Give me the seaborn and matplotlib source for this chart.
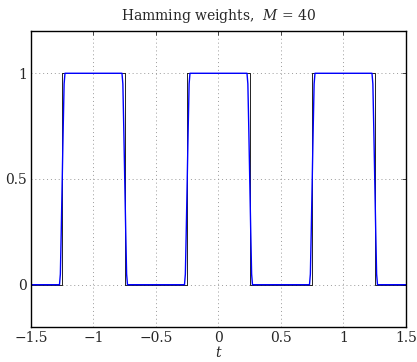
import matplotlib
matplotlib.use("Agg")
import matplotlib.pyplot as plt
import numpy as np
import pandas as pd
import seaborn as sns

# ideal square wave (black)
t_ideal = [-1.5, -1.25, -1.25, -0.75, -0.75, -0.25, -0.25, 0.25, 0.25,
           0.75, 0.75, 1.25, 1.25, 1.5]
x_ideal = [0, 0, 1, 1, 0, 0, 1, 1, 0, 0, 1, 1, 0, 0]

# Hamming-weighted partial sum (blue)
t_ham = [-1.5,
         -1.272, -1.265, -1.258, -1.25, -1.242, -1.235, -1.228,
         -0.772, -0.765, -0.758, -0.75, -0.742, -0.735, -0.728,
         -0.272, -0.265, -0.258, -0.25, -0.242, -0.235, -0.228,
         0.228, 0.235, 0.242, 0.25, 0.258, 0.265, 0.272,
         0.728, 0.735, 0.742, 0.75, 0.758, 0.765, 0.772,
         1.228, 1.235, 1.242, 1.25, 1.258, 1.265, 1.272,
         1.5]
x_ham = [0.0,
         0.0, 0.05, 0.25, 0.5, 0.75, 0.95, 1.0,
         1.0, 0.95, 0.75, 0.5, 0.25, 0.05, 0.0,
         0.0, 0.05, 0.25, 0.5, 0.75, 0.95, 1.0,
         1.0, 0.95, 0.75, 0.5, 0.25, 0.05, 0.0,
         0.0, 0.05, 0.25, 0.5, 0.75, 0.95, 1.0,
         1.0, 0.95, 0.75, 0.5, 0.25, 0.05, 0.0,
         0.0]

x_ticks = [-1.5, -1, -0.5, 0, 0.5, 1, 1.5]
x_ticklabels = ["\u22121.5", "\u22121", "\u22120.5", "0", "0.5", "1", "1.5"]
y_ticks = [0, 0.5, 1]
y_ticklabels = ["0", "0.5", "1"]

sns.set_style("white")
plt.rcParams["font.family"] = ["DejaVu Serif"]
plt.rcParams["mathtext.fontset"] = "dejavuserif"

fig = plt.figure(figsize=(4.17, 3.62), dpi=100)
ax = fig.add_axes([0.0743, 0.0967, 0.8993, 0.8177])

ideal = pd.DataFrame({"t": t_ideal, "x": x_ideal})
ham = pd.DataFrame({"t": t_ham, "x": x_ham})
sns.lineplot(data=ideal, x="t", y="x", ax=ax, color="black", lw=0.6,
             estimator=None, sort=False)
sns.lineplot(data=ham, x="t", y="x", ax=ax, color="#0000ff", lw=1.0,
             estimator=None, sort=False)

ax.set_xlim(-1.5, 1.5)
ax.set_ylim(-0.2, 1.2)
ax.set_xticks(x_ticks)
ax.set_xticklabels(x_ticklabels)
ax.set_yticks(y_ticks)
ax.set_yticklabels(y_ticklabels)
ax.tick_params(direction="in", length=3, width=0.6, labelsize=10,
               top=True, right=True, pad=3)
ax.grid(True, linestyle=(0, (1, 3)), color="#9a9a9a", lw=0.7)
for sp in ax.spines.values():
    sp.set_color("black")
    sp.set_linewidth(1.0)

ax.set_title("Hamming weights,  $M$ = 40", fontsize=10, pad=8)
ax.set_xlabel("$t$", fontsize=10, labelpad=0)
ax.set_ylabel("")

fig.savefig("out.png", dpi=100)
